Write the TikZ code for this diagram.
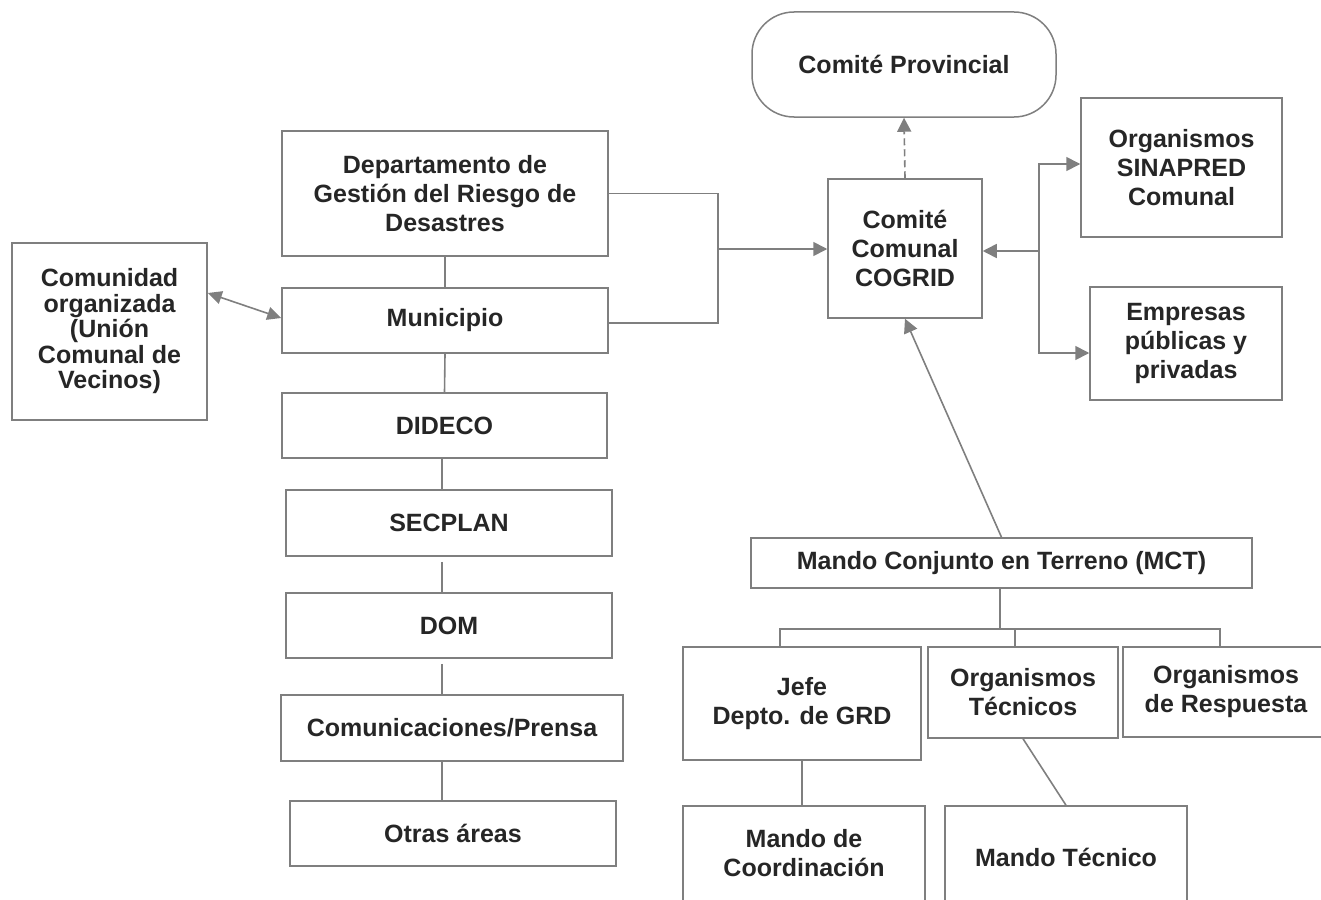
\documentclass[tikz,border=0pt]{standalone}
\usepackage{fontspec}
\setmainfont{Liberation Sans}
\usepackage{xcolor}
\usepackage{tikz}
\usetikzlibrary{arrows.meta,positioning,calc}

\definecolor{linea}{HTML}{7F7F7F}
\definecolor{texto}{HTML}{262626}

\begin{document}
\begin{tikzpicture}[
    x=1pt, y=-1pt,
    caja/.style={rectangle, draw=linea, line width=1.5pt, fill=white, align=center, inner sep=0pt, text=texto, font=\bfseries\fontsize{25}{29}\selectfont},
    ovalo/.style={caja, rounded corners=42pt},
    enlace/.style={draw=linea, line width=1.6pt},
    flecha/.style={-{Triangle[length=14pt, width=14pt]}, draw=linea, line width=1.6pt},
    dobleflecha/.style={{Triangle[length=14pt, width=13pt]}-{Triangle[length=14pt, width=13pt]}, draw=linea, line width=1.6pt}
]
    \useasboundingbox (0,0) rectangle (1321,899);

    \node [ovalo, minimum width=304pt, minimum height=105pt] (provincial) at (904,64.5) {Comité Provincial};

    \node [caja, minimum width=326pt, minimum height=125pt] (grd) at (445,193.5) {Departamento de\\Gestión del Riesgo de\\Desastres};
    \node [caja, minimum width=326pt, minimum height=65pt] (municipio) at (445,320.5) {Municipio};
    \node [caja, minimum width=195pt, minimum height=177pt, font=\bfseries\fontsize{25}{25.5}\selectfont] (comunidad) at (109.5,331.5) {Comunidad\\organizada\\(Unión\\Comunal de\\Vecinos)};
    \node [caja, minimum width=325pt, minimum height=65pt] (dideco) at (444.5,425.5) {DIDECO};
    \node [caja, minimum width=326pt, minimum height=66pt] (secplan) at (449,523) {SECPLAN};
    \node [caja, minimum width=326pt, minimum height=65pt] (dom) at (449,625.5) {DOM};
    \node [caja, minimum width=342pt, minimum height=66pt] (prensa) at (452,728) {Comunicaciones/Prensa};
    \node [caja, minimum width=326pt, minimum height=65pt] (otras) at (453,833.5) {Otras áreas};

    \node [caja, minimum width=154pt, minimum height=139pt] (cogrid) at (905,248.5) {Comité\\Comunal\\COGRID};
    \node [caja, minimum width=201pt, minimum height=139pt] (sinapred) at (1181.5,167.5) {Organismos\\SINAPRED\\Comunal};
    \node [caja, minimum width=192pt, minimum height=113pt] (empresas) at (1186,343.5) {Empresas\\públicas y\\privadas};

    \node [caja, minimum width=501pt, minimum height=50pt] (mct) at (1001.5,563) {Mando Conjunto en Terreno (MCT)};
    \node [caja, minimum width=238pt, minimum height=113pt] (jefe) at (802,703.5) {Jefe\\Depto. de GRD};
    \node [caja, minimum width=190pt, minimum height=91pt] (tecnicos) at (1023,692.5) {Organismos\\Técnicos};
    \node [caja, minimum width=206pt, minimum height=90pt] (respuesta) at (1226,692) {Organismos\\de Respuesta};
    \node [caja, minimum width=242pt, minimum height=95pt] (coord) at (804,853.5) {Mando de\\Coordinación};
    \node [caja, minimum width=242pt, minimum height=102pt] (mtecnico) at (1066,857) {Mando Técnico};

    \coordinate (col) at (442,0);
    \coordinate (junta) at (718,249);
    \coordinate (rama) at (1039,251);
    \coordinate (b1) at (780,629);
    \coordinate (b2) at (1015,629);
    \coordinate (b3) at (1220,629);

    \draw [enlace] (grd.south) -- (municipio.north);
    \draw [enlace] (municipio.south) -- (dideco.north);
    \draw [enlace] (dideco.south -| col) -- (secplan.north -| col);
    \draw [enlace, shorten <=5pt] (secplan.south -| col) -- (dom.north -| col);
    \draw [enlace, shorten <=5pt] (dom.south -| col) -- (prensa.north -| col);
    \draw [enlace] (prensa.south -| col) -- (otras.north -| col);
    \draw [dobleflecha] (comunidad.east |- 0,293) -- (municipio.west |- 0,318);

    \draw [enlace] (grd.east) -| (junta);
    \draw [enlace] (municipio.east |- 0,323) -| (junta);
    \draw [flecha] (junta) -- (cogrid.west |- junta);
    \draw [flecha, dash pattern=on 7pt off 4pt] (cogrid.north) -- (provincial.south);

    \draw [flecha] (rama) -- (cogrid.east |- rama);
    \draw [flecha] (rama) |- (sinapred.west |- 0,164);
    \draw [flecha] (rama) |- (empresas.west |- 0,353);

    \draw [flecha] (mct.north) -- (cogrid.south);
    \draw [enlace] (mct.south -| 1000,0) -- (1000,629);
    \draw [enlace] (b1 |- jefe.north) -- (b1) -- (b3) -- (b3 |- respuesta.north);
    \draw [enlace] (b2) -- (b2 |- tecnicos.north);
    \draw [enlace] (jefe.south) -- (jefe.south |- coord.north);
    \draw [enlace] (tecnicos.south) -- (mtecnico.north);
\end{tikzpicture}
\end{document}
